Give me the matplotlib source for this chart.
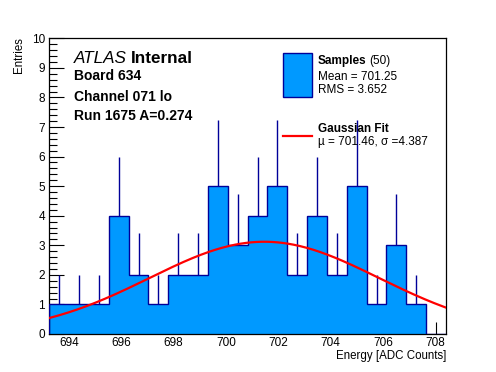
import numpy as np
import matplotlib
matplotlib.use('Agg')
import matplotlib.pyplot as plt
from matplotlib.patches import Rectangle
from matplotlib.lines import Line2D
from matplotlib.ticker import MultipleLocator

plt.rcParams['font.family'] = ['Liberation Sans', 'DejaVu Sans']

# histogram of 50 samples, 20 bins
hist_lo = 693.25
hist_hi = 708.40
counts = [1, 1, 1, 4, 2, 1, 2, 2, 5, 3, 4, 5, 2, 4, 2, 5, 1, 3, 1, 0]

# gaussian fit
fit_amp = 3.12
fit_mu = 701.46
fit_sigma = 4.387

n_samples = 50
mean = 701.25
rms = 3.652

fill_col = '#0099ff'
line_col = '#000099'

W, H = 496, 372
fig = plt.figure(figsize=(W / 100, H / 100), dpi=100)
ax = fig.add_axes([49.3 / W, 1 - 334 / H, (446 - 49.3) / W, (334 - 38.3) / H])

edges = np.linspace(hist_lo, hist_hi, len(counts) + 1)
centers = 0.5 * (edges[:-1] + edges[1:])
counts = np.array(counts, dtype=float)

ax.stairs(counts, edges, fill=True, color=fill_col, zorder=2)
ax.stairs(counts, edges, color=line_col, linewidth=1, zorder=3)
nz = counts > 0
ax.vlines(centers[nz], counts[nz], counts[nz] + np.sqrt(counts[nz]), color=line_col, linewidth=1, zorder=3)

xs = np.linspace(hist_lo, hist_hi, 300)
ax.plot(xs, fit_amp * np.exp(-0.5 * ((xs - fit_mu) / fit_sigma) ** 2), color='red', linewidth=1.6, zorder=4)

ax.set_xlim(hist_lo, hist_hi)
ax.set_ylim(0, 10)
ax.xaxis.set_major_locator(MultipleLocator(2))
ax.xaxis.set_minor_locator(MultipleLocator(0.5))
ax.yaxis.set_major_locator(MultipleLocator(1))
ax.yaxis.set_minor_locator(MultipleLocator(0.2))
ax.tick_params(which='both', direction='in', top=False, right=False, labelsize=8.5, width=0.8)
ax.tick_params(which='major', axis='x', length=9, pad=2.5)
ax.tick_params(which='minor', axis='x', length=4.5)
ax.tick_params(which='major', axis='y', length=11, pad=3)
ax.tick_params(which='minor', axis='y', length=5.5)
for s in ax.spines.values():
    s.set_linewidth(0.9)

fig.text(446 / W, 1 - 356 / H, 'Energy [ADC Counts]', ha='right', va='center', fontsize=8.3)
fig.text(19 / W, 1 - 37 / H, 'Entries', ha='center', va='top', rotation=90, fontsize=8.3)


def fx(px):
    return px / W


def fy(py):
    return 1 - py / H


renderer = fig.canvas.get_renderer()


def after(t, gap_px):
    bb = t.get_window_extent(renderer)
    return (bb.x1 + gap_px) / W

# label block
t = fig.text(fx(73.5), fy(58.7), 'ATLAS', style='italic', fontsize=12.3, va='center')
fig.text(after(t, 4), fy(58.7), 'Internal', weight='bold', fontsize=12.3, va='center')
fig.text(fx(73.5), fy(76), 'Board 634', weight='bold', fontsize=10, va='center')
fig.text(fx(73.5), fy(96.7), 'Channel 071 lo', weight='bold', fontsize=10, va='center')
fig.text(fx(73.5), fy(116), 'Run 1675 A=0.274', weight='bold', fontsize=10, va='center')

# legend
fig.add_artist(Rectangle((fx(283.3), fy(96.7)), (311.7 - 283.3) / W, (96.7 - 53.3) / H,
                         transform=fig.transFigure, facecolor=fill_col, edgecolor=line_col, linewidth=1))
t = fig.text(fx(317.7), fy(61), 'Samples', weight='bold', fontsize=8.5, va='center')
fig.text(after(t, 2.5), fy(61), '(%d)' % n_samples, fontsize=8.5, va='center')
fig.text(fx(317.7), fy(76.7), 'Mean = %.2f' % mean, fontsize=8.5, va='center')
fig.text(fx(317.7), fy(90), 'RMS = %.3f' % rms, fontsize=8.5, va='center')
fig.add_artist(Line2D([fx(283.3), fx(311.7)], [fy(136), fy(136)], transform=fig.transFigure,
                      color='red', linewidth=1.6))
fig.text(fx(317.7), fy(129.3), 'Gaussian Fit', weight='bold', fontsize=8.5, va='center')
fig.text(fx(317.7), fy(141.5), 'µ = %.2f, σ =%.3f' % (fit_mu, fit_sigma), fontsize=8.5, va='center')

fig.savefig('out.png', dpi=100)
